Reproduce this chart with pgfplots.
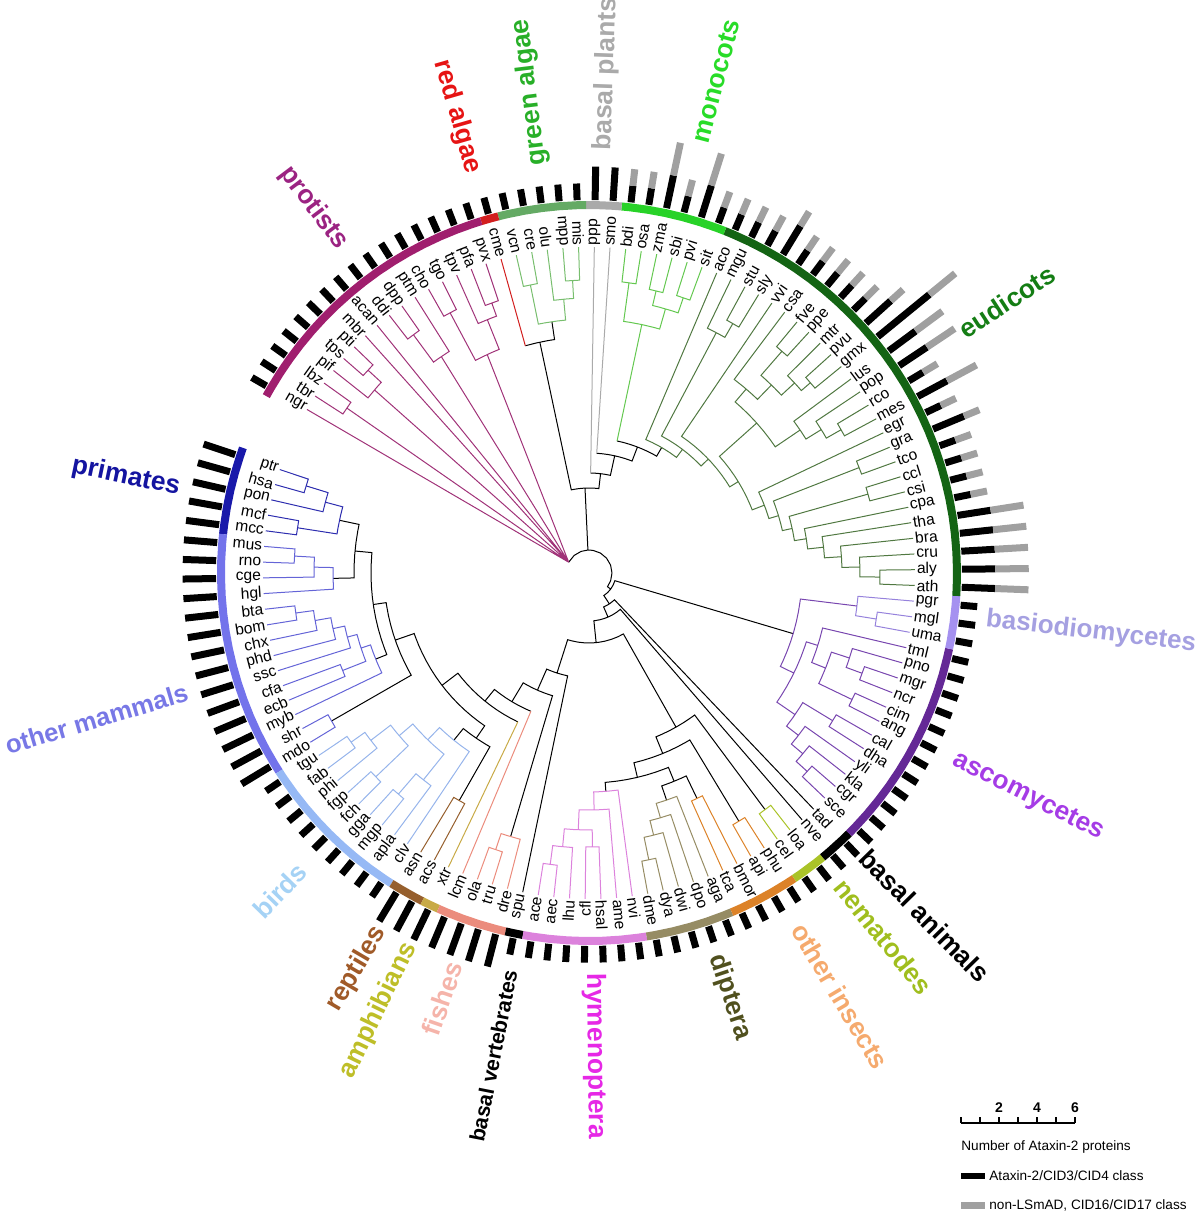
\documentclass[border=0pt]{standalone}
\usepackage{pgfplots}
\pgfplotsset{compat=1.18}
\usepgfplotslibrary{polar}
\usepackage{fontspec}
\setmainfont{Liberation Sans}
\definecolor{rPrim}{RGB}{25,25,170}
\definecolor{tPrim}{RGB}{20,20,160}
\definecolor{bPrim}{RGB}{45,45,175}
\definecolor{rMam}{RGB}{115,115,235}
\definecolor{tMam}{RGB}{120,120,230}
\definecolor{bMam}{RGB}{100,100,215}
\definecolor{rBird}{RGB}{150,185,245}
\definecolor{tBird}{RGB}{165,210,245}
\definecolor{bBird}{RGB}{150,180,235}
\definecolor{rRep}{RGB}{150,95,45}
\definecolor{tRep}{RGB}{160,90,40}
\definecolor{rAmp}{RGB}{200,170,70}
\definecolor{tAmp}{RGB}{190,190,40}
\definecolor{rFish}{RGB}{235,140,125}
\definecolor{tFish}{RGB}{245,180,170}
\definecolor{rHym}{RGB}{220,130,220}
\definecolor{tHym}{RGB}{230,40,230}
\definecolor{rDip}{RGB}{150,140,100}
\definecolor{tDip}{RGB}{80,80,30}
\definecolor{rIns}{RGB}{220,130,40}
\definecolor{tIns}{RGB}{245,170,110}
\definecolor{rNem}{RGB}{170,195,40}
\definecolor{tNem}{RGB}{160,190,30}
\definecolor{rAsc}{RGB}{100,40,150}
\definecolor{tAsc}{RGB}{165,60,230}
\definecolor{bAsc}{RGB}{120,70,175}
\definecolor{rBas}{RGB}{165,145,240}
\definecolor{tBas}{RGB}{165,160,225}
\definecolor{bBas}{RGB}{150,130,220}
\definecolor{rEud}{RGB}{20,100,20}
\definecolor{tEud}{RGB}{20,125,20}
\definecolor{bEud}{RGB}{80,120,65}
\definecolor{rMon}{RGB}{40,210,40}
\definecolor{tMon}{RGB}{40,220,40}
\definecolor{bMon}{RGB}{100,200,80}
\definecolor{rBpl}{RGB}{170,170,170}
\definecolor{rGrn}{RGB}{100,170,100}
\definecolor{tGrn}{RGB}{40,175,40}
\definecolor{bGrn}{RGB}{120,190,110}
\definecolor{rRed}{RGB}{210,30,30}
\definecolor{tRed}{RGB}{230,20,20}
\definecolor{rPro}{RGB}{160,30,110}
\definecolor{tPro}{RGB}{155,35,130}
\definecolor{bPro}{RGB}{160,50,120}
\definecolor{gBar}{RGB}{160,160,160}
\tikzset{
 leaf/.style={font=\fontsize{7.8}{8}\selectfont, inner sep=0pt, outer sep=0pt},
 grp/.style={font=\fontsize{13.2}{14}\selectfont\bfseries, inner sep=0pt, outer sep=0pt},
}
\pgfplotsset{
 tr/.style={line width=0.5pt, line join=miter},
 ring/.style={line width=4pt, line cap=butt},
}
\newcommand{\LeafR}[2]{\node[leaf,anchor=west,rotate=#1] at (axis cs:#1,328) {#2};}
\newcommand{\LeafL}[3]{\node[leaf,anchor=east,rotate=#2] at (axis cs:#1,328) {#3};}
\begin{document}
\begin{tikzpicture}
\useasboundingbox (-294.5pt,-321.5pt) rectangle (305.5pt,286.5pt);
\begin{polaraxis}[
  at={(0pt,0pt)}, anchor=center,
  scale only axis, width=600pt, height=600pt,
  ymin=0, ymax=600, xmin=0, xmax=360,
  hide axis, clip=false, no markers,
  unbounded coords=jump,
]
% ---------------- tree: backbone (black)
\addplot[tr, black] coordinates {
(-191.93,255) (-191.93,235) (-190.21,235) (-187.44,235) (-184.68,235) (-181.91,235) (-179.15,235) (-178.80,235) (-178.80,256) (nan,nan)
(-185.37,235) (-185.37,218) (-184.68,218) (-181.91,218) (-179.15,218) (-176.38,218) (-173.62,218) (-170.85,218) (-168.09,218) (-165.32,218) (-162.56,218) (-159.79,218) (-158.02,218) (-158.02,230) (nan,nan)
(-171.69,218) (-171.69,205) (-170.85,205) (-168.09,205) (-165.32,205) (-162.56,205) (-159.79,205) (-157.03,205) (-154.26,205) (-151.50,205) (-150.11,205) (-150.11,297) (nan,nan)
(-128.94,215) (-128.94,200) (-126.61,200) (-123.85,200) (-121.08,200) (-119.70,200) (-119.70,262) (nan,nan)
(-160.90,205) (-160.90,185) (-159.79,185) (-157.03,185) (-154.26,185) (-151.50,185) (-148.73,185) (-145.97,185) (-143.20,185) (-140.44,185) (-137.67,185) (-134.91,185) (-132.14,185) (-129.38,185) (-126.61,185) (-124.32,185) (-124.32,200) (nan,nan)
(-142.61,185) (-142.61,165) (-140.44,165) (-137.67,165) (-134.91,165) (-132.14,165) (-129.38,165) (-126.61,165) (-123.85,165) (-121.08,165) (-118.32,165) (-115.55,165) (nan,nan)
(-129.08,165) (-129.08,150) (-126.61,150) (-123.85,150) (-121.08,150) (-118.32,150) (-115.55,150) (-112.79,150) (nan,nan)
(-120.93,150) (-120.93,128) (-118.32,128) (-115.55,128) (-112.79,128) (-110.02,128) (-107.26,128) (-106.56,128) (-106.56,275) (nan,nan)
(-113.75,128) (-113.75,105) (-112.79,105) (-110.02,105) (-107.26,105) (-104.49,105) (-101.73,105) (-101.73,326) (nan,nan)
(-71.14,240) (-71.14,225) (-68.55,225) (-65.78,225) (-64.40,225) (-64.40,250) (nan,nan)
(-85.58,219) (-85.58,210) (-85.14,210) (-82.37,210) (-79.61,210) (-76.84,210) (-74.08,210) (-71.31,210) (-68.55,210) (-67.77,210) (-67.77,225) (nan,nan)
(-76.67,210) (-76.67,195) (-74.08,195) (-71.31,195) (-68.55,195) (-65.78,195) (-63.02,195) (-60.25,195) (-58.87,195) (-58.87,290) (nan,nan)
(-67.77,195) (-67.77,177) (-65.78,177) (-63.02,177) (-60.25,177) (-57.49,177) (-54.72,177) (-53.34,177) (-53.34,295) (nan,nan)
(-107.73,105) (-107.73,70) (-104.49,70) (-98.96,70) (-93.43,70) (-87.90,70) (-82.37,70) (-76.84,70) (-71.31,70) (-65.78,70) (-60.55,70) (-60.55,177) (nan,nan)
(-84.14,70) (-84.14,48) (-82.37,48) (-76.84,48) (-71.31,48) (-65.78,48) (-60.25,48) (-54.72,48) (-49.19,48) (-49.19,326) (nan,nan)
(-66.66,48) (-66.66,37) (-60.25,37) (-54.72,37) (-46.43,37) (-46.43,326) (nan,nan)
(-56.55,37) (-56.55,27) (-46.43,27) (-36.53,27) (-26.5,27) (-16.54,27) (-16.54,213) (nan,nan)
(-36.53,27) (-36.53,23) (-20,23) (0,23) (20,23) (40,23) (60,23) (80,23) (92.68,23) (110,23) (130,23) (152,23) (nan,nan)
(92.68,23) (92.68,85) (nan,nan)
(83.34,100) (83.34,85) (86.30,85) (89.06,85) (91.83,85) (94.59,85) (97.36,85) (100.12,85) (102.02,85) (102.02,236) (nan,nan)
(98.39,254) (98.39,236) (100.12,236) (102.89,236) (105.65,236) (nan,nan)
(77.63,120) (77.63,100) (80.77,100) (83.53,100) (86.30,100) (89.06,100) (nan,nan)
(68.96,135) (68.96,120) (72.47,120) (75.24,120) (78.00,120) (80.77,120) (83.53,120) (86.30,120) (nan,nan)
(59.92,145) (59.92,135) (61.41,135) (64.18,135) (66.94,135) (69.71,135) (72.47,135) (75.24,135) (78.00,135)
};
% primates
\addplot[tr, bPrim] coordinates {
(-198.50,326) (-198.50,296) (-195.74,296) (-195.74,326) (nan,nan)
(-197.12,296) (-197.12,273) (-195.74,273) (-192.97,273) (-192.97,326) (nan,nan)
(-190.21,326) (-190.21,295) (-187.44,295) (-187.44,326) (nan,nan)
(-195.04,273) (-195.04,255) (-192.97,255) (-190.21,255) (-188.82,255) (-188.82,295)
};
% other mammals
\addplot[tr, bMam] coordinates {
(-184.68,326) (-184.68,295) (-181.91,295) (-181.91,326) (nan,nan)
(-183.29,295) (-183.29,275) (-181.91,275) (-179.15,275) (-179.15,326) (nan,nan)
(-181.22,275) (-181.22,256) (-179.15,256) (-176.38,256) (-176.38,326) (nan,nan)
(-173.62,326) (-173.62,296) (-170.85,296) (-170.85,326) (nan,nan)
(-172.23,296) (-172.23,278) (-170.85,278) (-168.09,278) (-168.09,326) (nan,nan)
(-170.16,278) (-170.16,262) (-168.09,262) (-165.32,262) (-165.32,326) (nan,nan)
(-167.74,262) (-167.74,250) (-165.32,250) (-162.56,250) (-162.56,326) (nan,nan)
(-159.79,326) (-159.79,265) (-157.03,265) (-157.03,326) (nan,nan)
(-165.15,250) (-165.15,240) (-162.56,240) (-159.79,240) (-158.41,240) (-158.41,265) (nan,nan)
(-161.78,240) (-161.78,230) (-159.79,230) (-157.03,230) (-154.26,230) (-154.26,326) (nan,nan)
(-151.50,326) (-151.50,297) (-148.73,297) (-148.73,326)
};
% birds
\addplot[tr, bBird] coordinates {
(-145.97,326) (-145.97,292) (-143.20,292) (-143.20,326) (nan,nan)
(-144.58,292) (-144.58,275) (-143.20,275) (-140.44,275) (-140.44,326) (nan,nan)
(-137.67,326) (-137.67,295) (-134.91,295) (-134.91,326) (nan,nan)
(-142.51,275) (-142.51,250) (-140.44,250) (-137.67,250) (-136.29,250) (-136.29,295) (nan,nan)
(-132.14,326) (-132.14,292) (-129.38,292) (-129.38,326) (nan,nan)
(-130.76,292) (-130.76,265) (-129.38,265) (-126.61,265) (-126.61,326) (nan,nan)
(-139.40,250) (-139.40,232) (-137.67,232) (-134.91,232) (-132.14,232) (-129.38,232) (-128.68,232) (-128.68,265) (nan,nan)
(-134.04,232) (-134.04,215) (-132.14,215) (-129.38,215) (-126.61,215) (-123.85,215) (-123.85,326)
};
\addplot[tr, rRep] coordinates {(-121.08,326) (-121.08,262) (-118.32,262) (-118.32,326)};
\addplot[tr, rAmp] coordinates {(-115.55,165) (-115.55,326)};
\addplot[tr, rFish] coordinates {
(-112.79,150) (-112.79,326) (nan,nan)
(-110.02,326) (-110.02,292) (-107.26,292) (-107.26,326) (nan,nan)
(-108.64,292) (-108.64,275) (-107.26,275) (-104.49,275) (-104.49,326)
};
% hymenoptera
\addplot[tr, rHym] coordinates {
(-98.96,326) (-98.96,294) (-96.20,294) (-96.20,326) (nan,nan)
(-97.58,294) (-97.58,275) (-96.20,275) (-93.43,275) (-93.43,326) (nan,nan)
(-90.67,326) (-90.67,274) (-87.90,274) (-87.90,326) (nan,nan)
(-95.50,275) (-95.50,257) (-93.43,257) (-90.67,257) (-89.28,257) (-89.28,274) (nan,nan)
(-92.39,257) (-92.39,237) (-90.67,237) (-87.90,237) (-85.14,237) (-85.14,326) (nan,nan)
(-88.76,237) (-88.76,219) (-87.90,219) (-85.14,219) (-82.37,219) (-82.37,326)
};
% diptera
\addplot[tr, rDip] coordinates {
(-79.61,326) (-79.61,293) (-76.84,293) (-76.84,326) (nan,nan)
(-78.22,293) (-78.22,270) (-76.84,270) (-74.08,270) (-74.08,326) (nan,nan)
(-76.15,270) (-76.15,255) (-74.08,255) (-71.31,255) (-71.31,326) (nan,nan)
(-73.73,255) (-73.73,240) (-71.31,240) (-68.55,240) (-68.55,326)
};
\addplot[tr, rIns] coordinates {
(-65.78,326) (-65.78,250) (-63.02,250) (-63.02,326) (nan,nan)
(-60.25,326) (-60.25,290) (-57.49,290) (-57.49,326)
};
\addplot[tr, rNem] coordinates {(-54.72,326) (-54.72,295) (-51.96,295) (-51.96,326)};
% fungi
\addplot[tr, bBas] coordinates {
(-10.48,326) (-10.48,291) (-7.72,291) (-7.72,326) (nan,nan)
(-9.10,291) (-9.10,270) (-7.72,270) (-4.95,270) (-4.95,326)
};
\addplot[tr, bAsc] coordinates {
(-21.54,326) (-21.54,291) (-18.78,291) (-18.78,326) (nan,nan)
(-20.16,291) (-20.16,274) (-18.78,274) (-16.01,274) (-16.01,326) (nan,nan)
(-27.07,326) (-27.07,292) (-24.31,292) (-24.31,326) (nan,nan)
(-25.69,292) (-25.69,255) (-24.31,255) (-21.54,255) (-18.78,255) (-18.08,255) (-18.08,274) (nan,nan)
(-21.89,255) (-21.89,240) (-21.54,240) (-18.78,240) (-16.01,240) (-13.25,240) (-13.25,326) (nan,nan)
(-43.66,326) (-43.66,295) (-40.90,295) (-40.90,326) (nan,nan)
(-42.28,295) (-42.28,280) (-40.90,280) (-38.13,280) (-38.13,326) (nan,nan)
(-40.20,280) (-40.20,265) (-38.13,265) (-35.37,265) (-35.37,326) (nan,nan)
(-32.60,326) (-32.60,285) (-29.84,285) (-29.84,326) (nan,nan)
(-37.78,265) (-37.78,250) (-35.37,250) (-32.60,250) (-31.22,250) (-31.22,285) (nan,nan)
(-34.50,250) (-34.50,228) (-32.60,228) (-29.84,228) (-27.07,228) (-24.31,228) (-21.54,228) (-18.78,228) (-17.57,228) (-17.57,240) (nan,nan)
(-26.03,228) (-26.03,213) (-24.31,213) (-21.54,213) (-18.78,213) (-16.01,213) (-13.25,213) (-10.48,213) (-7.72,213) (-7.02,213) (-7.02,270)
};
% eudicots
\addplot[tr, bEud] coordinates {
(-2.19,326) (-2.19,291) (0.58,291) (0.58,326) (nan,nan)
(-0.80,291) (-0.80,271) (0.58,271) (3.35,271) (3.35,326) (nan,nan)
(1.27,271) (1.27,253) (3.35,253) (6.11,253) (6.11,326) (nan,nan)
(3.69,253) (3.69,236) (6.11,236) (8.88,236) (8.88,326) (nan,nan)
(6.28,236) (6.28,220) (8.88,220) (11.64,220) (11.64,326) (nan,nan)
(14.41,326) (14.41,290) (17.17,290) (17.17,326) (nan,nan)
(8.96,220) (8.96,208) (11.64,208) (14.41,208) (15.79,208) (15.79,290) (nan,nan)
(19.94,326) (19.94,290) (22.70,290) (22.70,326) (nan,nan)
(12.37,208) (12.37,198) (14.41,198) (17.17,198) (19.94,198) (21.32,198) (21.32,290) (nan,nan)
(16.84,198) (16.84,188) (17.17,188) (19.94,188) (22.70,188) (25.47,188) (25.47,326) (nan,nan)
(28.23,326) (28.23,290) (31.00,290) (31.00,326) (nan,nan)
(29.61,290) (29.61,273) (31.00,273) (33.76,273) (33.76,326) (nan,nan)
(31.69,273) (31.69,255) (33.76,255) (36.53,255) (36.53,326) (nan,nan)
(39.29,326) (39.29,292) (42.06,292) (42.06,326) (nan,nan)
(40.67,292) (40.67,280) (42.06,280) (44.82,280) (44.82,326) (nan,nan)
(47.59,326) (47.59,294) (50.35,294) (50.35,326) (nan,nan)
(42.75,280) (42.75,262) (44.82,262) (47.59,262) (48.97,262) (48.97,294) (nan,nan)
(45.86,262) (45.86,242) (47.59,242) (50.35,242) (53.12,242) (53.12,326) (nan,nan)
(34.11,255) (34.11,225) (36.53,225) (39.29,225) (42.06,225) (44.82,225) (47.59,225) (49.49,225) (49.49,242) (nan,nan)
(21.15,188) (21.15,175) (22.70,175) (25.47,175) (28.23,175) (31.00,175) (33.76,175) (36.53,175) (39.29,175) (41.80,175) (41.80,225) (nan,nan)
(31.47,175) (31.47,165) (33.76,165) (36.53,165) (39.29,165) (42.06,165) (44.82,165) (47.59,165) (50.35,165) (53.12,165) (55.88,165) (55.88,326) (nan,nan)
(58.65,326) (58.65,288) (61.41,288) (61.41,326) (nan,nan)
(60.03,288) (60.03,272) (61.41,272) (64.18,272) (64.18,326) (nan,nan)
(43.68,165) (43.68,155) (44.82,155) (47.59,155) (50.35,155) (53.12,155) (55.88,155) (58.65,155) (61.41,155) (62.10,155) (62.10,272) (nan,nan)
(52.89,155) (52.89,145) (55.88,145) (58.65,145) (61.41,145) (64.18,145) (66.94,145) (66.94,326)
};
% monocots
\addplot[tr, bMon] coordinates {
(69.71,326) (69.71,291) (72.47,291) (72.47,326) (nan,nan)
(75.24,326) (75.24,290) (78.00,290) (78.00,326) (nan,nan)
(71.09,291) (71.09,275) (72.47,275) (75.24,275) (76.62,275) (76.62,290) (nan,nan)
(80.77,326) (80.77,293) (83.53,293) (83.53,326) (nan,nan)
(73.85,275) (73.85,254) (75.24,254) (78.00,254) (80.77,254) (82.15,254) (82.15,293) (nan,nan)
(78.00,135) (78.00,254)
};
\addplot[tr, rBpl] coordinates {(86.30,120) (86.30,326) (nan,nan) (89.06,100) (89.06,326)};
\addplot[tr, bGrn] coordinates {
(91.83,326) (91.83,293) (94.59,293) (94.59,326) (nan,nan)
(93.21,293) (93.21,275) (94.59,275) (97.36,275) (97.36,326) (nan,nan)
(100.12,326) (100.12,294) (102.89,294) (102.89,326) (nan,nan)
(95.28,275) (95.28,254) (97.36,254) (100.12,254) (101.50,254) (101.50,294)
};
\addplot[tr, rRed] coordinates {(105.65,236) (105.65,326)};
% protists
\addplot[tr, bPro] coordinates {
(108.42,326) (108.42,287) (111.18,287) (111.18,326) (nan,nan)
(109.80,287) (109.80,273) (111.18,273) (113.95,273) (113.95,326) (nan,nan)
(116.71,326) (116.71,295) (119.48,295) (119.48,326) (nan,nan)
(111.87,273) (111.87,241) (113.95,241) (116.71,241) (118.09,241) (118.09,295) (nan,nan)
(125.01,326) (125.01,296) (127.77,296) (127.77,326) (nan,nan)
(122.24,326) (122.24,262) (125.01,262) (126.39,262) (126.39,296) (nan,nan)
(136.07,326) (136.07,300) (138.83,300) (138.83,326) (nan,nan)
(137.45,300) (137.45,282) (138.83,282) (141.60,282) (141.60,326) (nan,nan)
(144.36,326) (144.36,293) (147.13,293) (147.13,326) (nan,nan)
(152,23) (149.89,326) (nan,nan) (152,23) (145.74,293) (nan,nan)
(152,23) (139.52,282) (nan,nan) (152,23) (133.30,326) (nan,nan)
(152,23) (130.54,326) (nan,nan) (152,23) (124.31,262) (nan,nan)
(152,23) (114.98,241)
};
% ---------------- ring
\addplot[ring, rPrim] coordinates {(-199.88,368) (-198.50,368) (-195.74,368) (-192.97,368) (-190.21,368) (-187.44,368) (-186.06,368)};
\addplot[ring, rMam] coordinates {(-186.06,368) (-184.68,368) (-181.91,368) (-179.15,368) (-176.38,368) (-173.62,368) (-170.85,368) (-168.09,368) (-165.32,368) (-162.56,368) (-159.79,368) (-157.03,368) (-154.26,368) (-151.50,368) (-148.73,368) (-147.35,368)};
\addplot[ring, rBird] coordinates {(-147.35,368) (-145.97,368) (-143.20,368) (-140.44,368) (-137.67,368) (-134.91,368) (-132.14,368) (-129.38,368) (-126.61,368) (-123.85,368) (-122.47,368)};
\addplot[ring, rRep] coordinates {(-122.47,368) (-121.08,368) (-118.32,368) (-116.94,368)};
\addplot[ring, rAmp] coordinates {(-116.94,368) (-115.55,368) (-114.17,368)};
\addplot[ring, rFish] coordinates {(-114.17,368) (-112.79,368) (-110.02,368) (-107.26,368) (-104.49,368) (-103.11,368)};
\addplot[ring, black] coordinates {(-103.11,368) (-101.73,368) (-100.35,368)};
\addplot[ring, rHym] coordinates {(-100.35,368) (-98.96,368) (-96.20,368) (-93.43,368) (-90.67,368) (-87.90,368) (-85.14,368) (-82.37,368) (-80.99,368)};
\addplot[ring, rDip] coordinates {(-80.99,368) (-79.61,368) (-76.84,368) (-74.08,368) (-71.31,368) (-68.55,368) (-67.17,368)};
\addplot[ring, rIns] coordinates {(-67.17,368) (-65.78,368) (-63.02,368) (-60.25,368) (-57.49,368) (-56.11,368)};
\addplot[ring, rNem] coordinates {(-56.11,368) (-54.72,368) (-51.96,368) (-50.58,368)};
\addplot[ring, black] coordinates {(-50.58,368) (-49.19,368) (-46.43,368) (-45.05,368)};
\addplot[ring, rAsc] coordinates {(-45.05,368) (-43.66,368) (-40.90,368) (-38.13,368) (-35.37,368) (-32.60,368) (-29.84,368) (-27.07,368) (-24.31,368) (-21.54,368) (-18.78,368) (-16.01,368) (-13.25,368) (-11.87,368)};
\addplot[ring, rBas] coordinates {(-11.87,368) (-10.48,368) (-7.72,368) (-4.95,368) (-3.57,368)};
\addplot[ring, rEud] coordinates {(-3.57,368) (-2.19,368) (0.58,368) (3.35,368) (6.11,368) (8.88,368) (11.64,368) (14.41,368) (17.17,368) (19.94,368) (22.70,368) (25.47,368) (28.23,368) (31.00,368) (33.76,368) (36.53,368) (39.29,368) (42.06,368) (44.82,368) (47.59,368) (50.35,368) (53.12,368) (55.88,368) (58.65,368) (61.41,368) (64.18,368) (66.94,368) (68.33,368)};
\addplot[ring, rMon] coordinates {(68.33,368) (69.71,368) (72.47,368) (75.24,368) (78.00,368) (80.77,368) (83.53,368) (84.91,368)};
\addplot[ring, rBpl] coordinates {(84.91,368) (86.30,368) (89.06,368) (90.45,368)};
\addplot[ring, rGrn] coordinates {(90.45,368) (91.83,368) (94.59,368) (97.36,368) (100.12,368) (102.89,368) (104.27,368)};
\addplot[ring, rRed] coordinates {(104.27,368) (105.65,368) (107.04,368)};
\addplot[ring, rPro] coordinates {(107.04,368) (108.42,368) (111.18,368) (113.95,368) (116.71,368) (119.48,368) (122.24,368) (125.01,368) (127.77,368) (130.54,368) (133.30,368) (136.07,368) (138.83,368) (141.60,368) (144.36,368) (147.13,368) (149.89,368) (151.27,368)};
% ---------------- bars: Ataxin-2/CID3/CID4 class (black)
\addplot[line width=3.5pt, line cap=butt, black] coordinates {
(-198.50,373) (-198.50,406.4) (nan,nan) (-195.74,373) (-195.74,406.4) (nan,nan) (-192.97,373) (-192.97,406.4) (nan,nan)
(-190.21,373) (-190.21,406.4) (nan,nan) (-187.44,373) (-187.44,406.4) (nan,nan) (-184.68,373) (-184.68,406.4) (nan,nan)
(-181.91,373) (-181.91,406.4) (nan,nan) (-179.15,373) (-179.15,406.4) (nan,nan) (-176.38,373) (-176.38,406.4) (nan,nan)
(-173.62,373) (-173.62,406.4) (nan,nan) (-170.85,373) (-170.85,406.4) (nan,nan) (-168.09,373) (-168.09,406.4) (nan,nan)
(-165.32,373) (-165.32,406.4) (nan,nan) (-162.56,373) (-162.56,406.4) (nan,nan) (-159.79,373) (-159.79,406.4) (nan,nan)
(-157.03,373) (-157.03,406.4) (nan,nan) (-154.26,373) (-154.26,406.4) (nan,nan) (-151.50,373) (-151.50,406.4) (nan,nan)
(-148.73,373) (-148.73,406.4) (nan,nan)
(-145.97,373) (-145.97,389.7) (nan,nan) (-143.20,373) (-143.20,389.7) (nan,nan) (-140.44,373) (-140.44,389.7) (nan,nan)
(-137.67,373) (-137.67,389.7) (nan,nan) (-134.91,373) (-134.91,389.7) (nan,nan) (-132.14,373) (-132.14,389.7) (nan,nan)
(-129.38,373) (-129.38,389.7) (nan,nan) (-126.61,373) (-126.61,389.7) (nan,nan) (-123.85,373) (-123.85,389.7) (nan,nan)
(-121.08,373) (-121.08,406.4) (nan,nan) (-118.32,373) (-118.32,406.4) (nan,nan) (-115.55,373) (-115.55,406.4) (nan,nan)
(-112.79,373) (-112.79,406.4) (nan,nan) (-110.02,373) (-110.02,406.4) (nan,nan) (-107.26,373) (-107.26,406.4) (nan,nan)
(-104.49,373) (-104.49,406.4) (nan,nan)
(-101.73,373) (-101.73,389.7) (nan,nan) (-98.96,373) (-98.96,389.7) (nan,nan) (-96.20,373) (-96.20,389.7) (nan,nan)
(-93.43,373) (-93.43,389.7) (nan,nan) (-90.67,373) (-90.67,389.7) (nan,nan) (-87.90,373) (-87.90,389.7) (nan,nan)
(-85.14,373) (-85.14,389.7) (nan,nan) (-82.37,373) (-82.37,389.7) (nan,nan) (-79.61,373) (-79.61,389.7) (nan,nan)
(-76.84,373) (-76.84,389.7) (nan,nan) (-74.08,373) (-74.08,389.7) (nan,nan) (-71.31,373) (-71.31,389.7) (nan,nan)
(-68.55,373) (-68.55,389.7) (nan,nan) (-65.78,373) (-65.78,389.7) (nan,nan) (-63.02,373) (-63.02,389.7) (nan,nan)
(-60.25,373) (-60.25,389.7) (nan,nan) (-57.49,373) (-57.49,389.7) (nan,nan) (-54.72,373) (-54.72,389.7) (nan,nan)
(-51.96,373) (-51.96,389.7) (nan,nan) (-49.19,373) (-49.19,389.7) (nan,nan) (-46.43,373) (-46.43,389.7) (nan,nan)
(-43.66,373) (-43.66,389.7) (nan,nan) (-40.90,373) (-40.90,389.7) (nan,nan) (-38.13,373) (-38.13,389.7) (nan,nan)
(-35.37,373) (-35.37,389.7) (nan,nan) (-32.60,373) (-32.60,389.7) (nan,nan) (-29.84,373) (-29.84,389.7) (nan,nan)
(-27.07,373) (-27.07,389.7) (nan,nan) (-24.31,373) (-24.31,389.7) (nan,nan) (-21.54,373) (-21.54,389.7) (nan,nan)
(-18.78,373) (-18.78,389.7) (nan,nan) (-16.01,373) (-16.01,389.7) (nan,nan) (-13.25,373) (-13.25,389.7) (nan,nan)
(-10.48,373) (-10.48,389.7) (nan,nan) (-7.72,373) (-7.72,389.7) (nan,nan) (-4.95,373) (-4.95,389.7) (nan,nan)
(-2.19,373) (-2.19,406.4) (nan,nan) (0.58,373) (0.58,406.4) (nan,nan) (3.35,373) (3.35,406.4) (nan,nan)
(6.11,373) (6.11,406.4) (nan,nan) (8.88,373) (8.88,406.4) (nan,nan) (11.64,373) (11.64,389.7) (nan,nan)
(14.41,373) (14.41,389.7) (nan,nan) (17.17,373) (17.17,389.7) (nan,nan) (19.94,373) (19.94,389.7) (nan,nan)
(22.70,373) (22.70,406.4) (nan,nan) (25.47,373) (25.47,389.7) (nan,nan) (28.23,373) (28.23,406.4) (nan,nan)
(31.00,373) (31.00,389.7) (nan,nan) (33.76,373) (33.76,406.4) (nan,nan) (36.53,373) (36.53,406.4) (nan,nan)
(39.29,373) (39.29,439.8) (nan,nan) (42.06,373) (42.06,406.4) (nan,nan) (44.82,373) (44.82,389.7) (nan,nan)
(47.59,373) (47.59,389.7) (nan,nan) (50.35,373) (50.35,389.7) (nan,nan) (53.12,373) (53.12,389.7) (nan,nan)
(55.88,373) (55.88,389.7) (nan,nan) (58.65,373) (58.65,406.4) (nan,nan) (61.41,373) (61.41,389.7) (nan,nan)
(64.18,373) (64.18,389.7) (nan,nan) (66.94,373) (66.94,389.7) (nan,nan) (69.71,373) (69.71,389.7) (nan,nan)
(72.47,373) (72.47,406.4) (nan,nan) (75.24,373) (75.24,389.7) (nan,nan) (78.00,373) (78.00,406.4) (nan,nan)
(80.77,373) (80.77,389.7) (nan,nan) (83.53,373) (83.53,389.7) (nan,nan) (86.30,373) (86.30,406.4) (nan,nan)
(89.06,373) (89.06,406.4) (nan,nan)
(91.83,373) (91.83,389.7) (nan,nan) (94.59,373) (94.59,389.7) (nan,nan) (97.36,373) (97.36,389.7) (nan,nan)
(100.12,373) (100.12,389.7) (nan,nan) (102.89,373) (102.89,389.7) (nan,nan) (105.65,373) (105.65,389.7) (nan,nan)
(108.42,373) (108.42,389.7) (nan,nan) (111.18,373) (111.18,389.7) (nan,nan) (113.95,373) (113.95,389.7) (nan,nan)
(116.71,373) (116.71,389.7) (nan,nan) (119.48,373) (119.48,389.7) (nan,nan) (122.24,373) (122.24,389.7) (nan,nan)
(125.01,373) (125.01,389.7) (nan,nan) (127.77,373) (127.77,389.7) (nan,nan) (130.54,373) (130.54,389.7) (nan,nan)
(133.30,373) (133.30,389.7) (nan,nan) (136.07,373) (136.07,389.7) (nan,nan) (138.83,373) (138.83,389.7) (nan,nan)
(141.60,373) (141.60,389.7) (nan,nan) (144.36,373) (144.36,389.7) (nan,nan) (147.13,373) (147.13,389.7) (nan,nan)
(149.89,373) (149.89,389.7)
};
% bars: non-LSmAD, CID16/CID17 class (grey)
\addplot[line width=3.5pt, line cap=butt, gBar] coordinates {
(-2.19,406.4) (-2.19,439.8) (nan,nan) (0.58,406.4) (0.58,439.8) (nan,nan) (3.35,406.4) (3.35,439.8) (nan,nan)
(6.11,406.4) (6.11,439.8) (nan,nan) (8.88,406.4) (8.88,439.8) (nan,nan) (11.64,389.7) (11.64,406.4) (nan,nan)
(14.41,389.7) (14.41,406.4) (nan,nan) (17.17,389.7) (17.17,406.4) (nan,nan) (19.94,389.7) (19.94,406.4) (nan,nan)
(22.70,406.4) (22.70,423.1) (nan,nan) (25.47,389.7) (25.47,406.4) (nan,nan) (28.23,406.4) (28.23,439.8) (nan,nan)
(31.00,389.7) (31.00,406.4) (nan,nan) (33.76,406.4) (33.76,439.8) (nan,nan) (36.53,406.4) (36.53,439.8) (nan,nan)
(39.29,439.8) (39.29,473.2) (nan,nan) (42.06,406.4) (42.06,423.1) (nan,nan) (44.82,389.7) (44.82,406.4) (nan,nan)
(47.59,389.7) (47.59,406.4) (nan,nan) (50.35,389.7) (50.35,406.4) (nan,nan) (53.12,389.7) (53.12,406.4) (nan,nan)
(55.88,389.7) (55.88,406.4) (nan,nan) (58.65,406.4) (58.65,423.1) (nan,nan) (61.41,389.7) (61.41,406.4) (nan,nan)
(64.18,389.7) (64.18,406.4) (nan,nan) (66.94,389.7) (66.94,406.4) (nan,nan) (69.71,389.7) (69.71,406.4) (nan,nan)
(72.47,406.4) (72.47,439.8) (nan,nan) (75.24,389.7) (75.24,406.4) (nan,nan) (78.00,406.4) (78.00,439.8) (nan,nan)
(80.77,389.7) (80.77,406.4) (nan,nan) (83.53,389.7) (83.53,406.4)
};
% ---------------- leaf labels
\LeafL{-198.50}{-18.50}{ptr} \LeafL{-195.74}{-15.74}{hsa} \LeafL{-192.97}{-12.97}{pon}
\LeafL{-190.21}{-10.21}{mcf} \LeafL{-187.44}{-7.44}{mcc} \LeafL{-184.68}{-4.68}{mus}
\LeafL{-181.91}{-1.91}{rno} \LeafL{-179.15}{0.85}{cge} \LeafL{-176.38}{3.62}{hgl}
\LeafL{-173.62}{6.38}{bta} \LeafL{-170.85}{9.15}{bom} \LeafL{-168.09}{11.91}{chx}
\LeafL{-165.32}{14.68}{phd} \LeafL{-162.56}{17.44}{ssc} \LeafL{-159.79}{20.21}{cfa}
\LeafL{-157.03}{22.97}{ecb} \LeafL{-154.26}{25.74}{myb} \LeafL{-151.50}{28.50}{shr}
\LeafL{-148.73}{31.27}{mdo} \LeafL{-145.97}{34.03}{tgu} \LeafL{-143.20}{36.80}{fab}
\LeafL{-140.44}{39.56}{phi} \LeafL{-137.67}{42.33}{fgp} \LeafL{-134.91}{45.09}{fch}
\LeafL{-132.14}{47.86}{gga} \LeafL{-129.38}{50.62}{mgp} \LeafL{-126.61}{53.39}{apla}
\LeafL{-123.85}{56.15}{clv} \LeafL{-121.08}{58.92}{asn} \LeafL{-118.32}{61.68}{acs}
\LeafL{-115.55}{64.45}{xtr} \LeafL{-112.79}{67.21}{lcm} \LeafL{-110.02}{69.98}{ola}
\LeafL{-107.26}{72.74}{tru} \LeafL{-104.49}{75.51}{dre} \LeafL{-101.73}{78.27}{spu}
\LeafL{-98.96}{81.04}{ace} \LeafL{-96.20}{83.80}{aec} \LeafL{-93.43}{86.57}{lhu}
\LeafL{-90.67}{89.33}{cfl}
\LeafR{-87.90}{hsal} \LeafR{-85.14}{ame} \LeafR{-82.37}{nvi} \LeafR{-79.61}{dme}
\LeafR{-76.84}{dya} \LeafR{-74.08}{dwi} \LeafR{-71.31}{dpo} \LeafR{-68.55}{aga}
\LeafR{-65.78}{tca} \LeafR{-63.02}{bmor} \LeafR{-60.25}{api} \LeafR{-57.49}{phu}
\LeafR{-54.72}{cel} \LeafR{-51.96}{loa} \LeafR{-49.19}{nve} \LeafR{-46.43}{tad}
\LeafR{-43.66}{sce} \LeafR{-40.90}{cgr} \LeafR{-38.13}{kla} \LeafR{-35.37}{yli}
\LeafR{-32.60}{dha} \LeafR{-29.84}{cal} \LeafR{-27.07}{ang} \LeafR{-24.31}{cim}
\LeafR{-21.54}{ncr} \LeafR{-18.78}{mgr} \LeafR{-16.01}{pno} \LeafR{-13.25}{tml}
\LeafR{-10.48}{uma} \LeafR{-7.72}{mgl} \LeafR{-4.95}{pgr} \LeafR{-2.19}{ath}
\LeafR{0.58}{aly} \LeafR{3.35}{cru} \LeafR{6.11}{bra} \LeafR{8.88}{tha}
\LeafR{11.64}{cpa} \LeafR{14.41}{csi} \LeafR{17.17}{ccl} \LeafR{19.94}{tco}
\LeafR{22.70}{gra} \LeafR{25.47}{egr} \LeafR{28.23}{mes} \LeafR{31.00}{rco}
\LeafR{33.76}{pop} \LeafR{36.53}{lus} \LeafR{39.29}{gmx} \LeafR{42.06}{pvu}
\LeafR{44.82}{mtr} \LeafR{47.59}{ppe} \LeafR{50.35}{fve} \LeafR{53.12}{csa}
\LeafR{55.88}{vvi} \LeafR{58.65}{sly} \LeafR{61.41}{stu} \LeafR{64.18}{mgu}
\LeafR{66.94}{aco} \LeafR{69.71}{sit} \LeafR{72.47}{pvi} \LeafR{75.24}{sbi}
\LeafR{78.00}{zma} \LeafR{80.77}{osa} \LeafR{83.53}{bdi} \LeafR{86.30}{smo}
\LeafR{89.06}{ppp}
\LeafL{91.83}{-88.17}{mis} \LeafL{94.59}{-85.41}{mpp} \LeafL{97.36}{-82.64}{olu}
\LeafL{100.12}{-79.88}{cre} \LeafL{102.89}{-77.11}{vcn} \LeafL{105.65}{-74.35}{cme}
\LeafL{108.42}{-71.58}{pvx} \LeafL{111.18}{-68.82}{pfa} \LeafL{113.95}{-66.05}{tpv}
\LeafL{116.71}{-63.29}{tgo} \LeafL{119.48}{-60.52}{cho} \LeafL{122.24}{-57.76}{ptm}
\LeafL{125.01}{-54.99}{dpp} \LeafL{127.77}{-52.23}{ddi} \LeafL{130.54}{-49.46}{acan}
\LeafL{133.30}{-46.70}{mbr} \LeafL{136.07}{-43.93}{pti} \LeafL{138.83}{-41.17}{tps}
\LeafL{141.60}{-38.40}{pif} \LeafL{144.36}{-35.64}{lbz} \LeafL{147.13}{-32.87}{tbr}
\LeafL{149.89}{-30.11}{ngr}
% ---------------- group labels
\node[grp,text=tPrim,anchor=east,rotate=-11.7] at (axis cs:168.3,418) {primates};
\node[grp,text=tMam,anchor=east,rotate=16.5,font=\fontsize{12.8}{14}\selectfont\bfseries] at (axis cs:-163.5,419) {other mammals};
\node[grp,text=tBird,anchor=east,rotate=45.8] at (axis cs:-134.2,411) {birds};
\node[grp,text=tRep,anchor=east,rotate=59.6] at (axis cs:-120.4,412) {reptiles};
\node[grp,text=tAmp,anchor=east,rotate=64.3] at (axis cs:-115.7,412) {amphibians};
\node[grp,text=tFish,anchor=east,rotate=71] at (axis cs:-109,412) {fishes};
\node[grp,text=black,anchor=east,rotate=78.8,font=\fontsize{10.6}{12}\selectfont\bfseries] at (axis cs:-101.2,405) {basal vertebrates};
\node[grp,text=tHym,anchor=west,rotate=-89.3] at (axis cs:-89.3,400) {hymenoptera};
\node[grp,text=tDip,anchor=west,rotate=-71.6] at (axis cs:-71.6,403) {diptera};
\node[grp,text=tIns,anchor=west,rotate=-59.3] at (axis cs:-59.3,410) {other insects};
\node[grp,text=tNem,anchor=west,rotate=-51] at (axis cs:-51,398) {nematodes};
\node[grp,text=black,anchor=west,rotate=-45.6] at (axis cs:-45.6,393) {basal animals};
\node[grp,text=tAsc,anchor=west,rotate=-27] at (axis cs:-27,410) {ascomycetes};
\node[grp,text=tBas,anchor=west,rotate=-6.7,font=\fontsize{13}{14}\selectfont\bfseries] at (axis cs:-6.7,400) {basiodiomycetes};
\node[grp,text=tEud,anchor=west,rotate=33] at (axis cs:33,444) {eudicots};
\node[grp,text=tMon,anchor=west,rotate=75.5] at (axis cs:75.5,445) {monocots};
\node[grp,text=rBpl,anchor=west,rotate=88] at (axis cs:88,423) {basal plants};
\node[grp,text=tGrn,anchor=west,rotate=97] at (axis cs:97,411) {green algae};
\node[grp,text=tRed,anchor=east,rotate=-73.9] at (axis cs:106.1,417) {red algae};
\node[grp,text=tPro,anchor=east,rotate=-53] at (axis cs:127,409) {protists};
\end{polaraxis}
% ---------------- scale and legend
\draw[line width=0.7pt] (186pt,-275pt) -- (243pt,-275pt);
\foreach \k in {0,...,6} \draw[line width=0.7pt] ({186pt+\k*9.5pt},-275pt) -- ++(0,3pt);
\foreach \k/\t in {2/2,4/4,6/6} \node[font=\fontsize{7}{8}\selectfont\bfseries, inner sep=0pt, anchor=south] at ({186pt+\k*9.5pt},-270pt) {\t};
\node[font=\fontsize{6.8}{8}\selectfont, inner sep=0pt, anchor=west] at (186pt,-287pt) {Number of Ataxin-2 proteins};
\fill[black] (186pt,-299.8pt) rectangle (198pt,-303.2pt);
\node[font=\fontsize{6.8}{8}\selectfont, inner sep=0pt, anchor=west] at (200pt,-301.5pt) {Ataxin-2/CID3/CID4 class};
\fill[gBar] (186pt,-314.5pt) rectangle (198pt,-317.9pt);
\node[font=\fontsize{6.8}{8}\selectfont, inner sep=0pt, anchor=west] at (200pt,-316.2pt) {non-LSmAD, CID16/CID17 class};
\end{tikzpicture}
\end{document}
